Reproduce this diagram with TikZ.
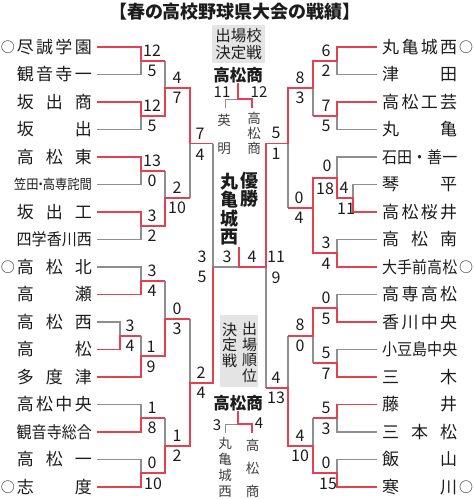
\documentclass[tikz,border=0pt]{standalone}
\usepackage{fontspec}
\setmainfont{Noto Sans CJK JP}
\definecolor{wr}{HTML}{E5404F}
\definecolor{gl}{HTML}{8E8E8E}
\definecolor{ink}{HTML}{1C1C1C}
\definecolor{boxbg}{HTML}{E4E4E4}
\newcommand\tname[1]{\makebox[75pt][s]{#1}}
\newcommand\fivename[1]{\scalebox{0.91}[1]{\fontsize{16.5}{16.5}\selectfont #1}}
\tikzset{
  rl/.style={draw=wr,line width=1.9pt},
  gr/.style={draw=gl,line width=1.1pt},
  rls/.style={draw=wr,line width=1.6pt},
  grs/.style={draw=gl,line width=0.9pt},
  ln/.style={anchor=east,inner sep=0pt,text=ink,font=\fontsize{17}{17}\selectfont},
  rn/.style={anchor=west,inner sep=0pt,text=ink,font=\fontsize{17}{17}\selectfont},
  sc/.style={inner sep=0pt,text=ink,font=\fontsize{16}{16}\selectfont},
  seed/.style={inner sep=0pt,text=ink,font=\fontsize{14}{14}\selectfont},
  vt/.style={inner sep=0pt,align=center,text=ink},
}
\begin{document}
\begin{tikzpicture}[x=1pt,y=-1pt,line join=miter]
\useasboundingbox (0,0) rectangle (474,499);
% title
\node[inner sep=0pt,text=ink,font=\fontsize{18}{18}\selectfont\bfseries] (T) at (235,12) {【春の高校野球県大会の戦績】};
% left names
\node[ln] (L0) at (92,47) {\tname{尽\hfill 誠\hfill 学\hfill 園}};
\node[ln] (L1) at (92,74.5) {\tname{観\hfill 音\hfill 寺\hfill 一}};
\node[ln] (L2) at (92,102) {\tname{坂\hfill 出\hfill 商}};
\node[ln] (L3) at (92,129.5) {\tname{坂\hfill 出}};
\node[ln] (L4) at (92,157) {\tname{高\hfill 松\hfill 東}};
\node[ln] (L5) at (92,184.5) {\scalebox{0.9}[1]{\fontsize{13.6}{13.6}\selectfont 笠田\kern-4.5pt・\kern-4.5pt高専詫間}};
\node[ln] (L6) at (92,212) {\tname{坂\hfill 出\hfill 工}};
\node[ln] (L7) at (92,239.5) {\fivename{四学香川西}};
\node[ln] (L8) at (92,267) {\tname{高\hfill 松\hfill 北}};
\node[ln] (L9) at (92,294.5) {\tname{高\hfill 瀬}};
\node[ln] (L10) at (92,322) {\tname{高\hfill 松\hfill 西}};
\node[ln] (L11) at (92,349.5) {\tname{高\hfill 松}};
\node[ln] (L12) at (92,377) {\tname{多\hfill 度\hfill 津}};
\node[ln] (L13) at (92,404.5) {\tname{高\hfill 松\hfill 中\hfill 央}};
\node[ln] (L14) at (92,432) {\fivename{観音寺総合}};
\node[ln] (L15) at (92,459.5) {\tname{高\hfill 松\hfill 一}};
\node[ln] (L16) at (92,487) {\tname{志\hfill 度}};
\node[seed] (CL0) at (8,47) {○};
\node[seed] (CL8) at (8,267) {○};
\node[seed] (CL16) at (8,487) {○};
% right names
\node[rn] (R0) at (382,47) {\tname{丸\hfill 亀\hfill 城\hfill 西}};
\node[rn] (R1) at (382,74.5) {\tname{津\hfill 田}};
\node[rn] (R2) at (382,102) {\tname{高\hfill 松\hfill 工\hfill 芸}};
\node[rn] (R3) at (382,129.5) {\tname{丸\hfill 亀}};
\node[rn] (R4) at (382,157) {\fivename{石田・善一}};
\node[rn] (R5) at (382,184.5) {\tname{琴\hfill 平}};
\node[rn] (R6) at (382,212) {\tname{高\hfill 松\hfill 桜\hfill 井}};
\node[rn] (R7) at (382,239.5) {\tname{高\hfill 松\hfill 南}};
\node[rn] (R8) at (382,267) {\fivename{大手前高松}};
\node[rn] (R9) at (382,294.5) {\tname{高\hfill 専\hfill 高\hfill 松}};
\node[rn] (R10) at (382,322) {\tname{香\hfill 川\hfill 中\hfill 央}};
\node[rn] (R11) at (382,349.5) {\fivename{小豆島中央}};
\node[rn] (R12) at (382,377) {\tname{三\hfill 木}};
\node[rn] (R13) at (382,404.5) {\tname{藤\hfill 井}};
\node[rn] (R14) at (382,432) {\tname{三\hfill 本\hfill 松}};
\node[rn] (R15) at (382,459.5) {\tname{飯\hfill 山}};
\node[rn] (R16) at (382,487) {\tname{寒\hfill 川}};
\node[seed] (CR0) at (466,47) {○};
\node[seed] (CR8) at (466,267) {○};
\node[seed] (CR16) at (466,487) {○};
% centre boxes and labels
\node[fill=boxbg,inner sep=1pt,minimum width=53pt,minimum height=38pt,align=center,text=ink,font=\fontsize{15.5}{17}\selectfont] (B1) at (238.5,44) {出場校\\決定戦};
\node[fill=boxbg,minimum width=38pt,minimum height=72pt,inner sep=0pt] (B2) at (239,351) {};
\node[vt,font=\fontsize{15}{15.5}\selectfont] (B2r) at (249.5,352.5) {出\\場\\順\\位};
\node[vt,font=\fontsize{15}{15.5}\selectfont] (B2l) at (229.5,345) {決\\定\\戦};
\node[inner sep=0pt,text=ink,font=\fontsize{16.5}{16.5}\selectfont\bfseries] (K1) at (238,75) {高松商};
\node[inner sep=0pt,text=ink,font=\fontsize{16.5}{16.5}\selectfont\bfseries] (K2) at (238,403) {高松商};
\node[vt,font=\fontsize{18}{18.5}\selectfont\bfseries] (V1) at (229,209) {丸\\亀\\城\\西};
\node[vt,font=\fontsize{18}{18}\selectfont\bfseries] (V2) at (249,190) {優\\勝};
\node[vt,text=ink!85,font=\fontsize{13.5}{28}\selectfont] (E1) at (224,134) {英\\明};
\node[vt,text=ink!85,font=\fontsize{13.5}{15}\selectfont] (E2) at (254,133.5) {高\\松\\商};
\node[vt,text=ink!85,font=\fontsize{13.5}{16}\selectfont] (E3) at (225,467) {丸\\亀\\城\\西};
\node[vt,text=ink!85,font=\fontsize{13.5}{23}\selectfont] (E4) at (252.5,468.5) {高\\松\\商};
\node[sc,font=\fontsize{15}{15}\selectfont] (k1a) at (222,92) {11};
\node[sc,font=\fontsize{15}{15}\selectfont] (k1b) at (259,92) {12};
\node[sc,font=\fontsize{15}{15}\selectfont] (k2a) at (217,425) {3};
\node[sc,font=\fontsize{15}{15}\selectfont] (k2b) at (259,423) {4};
% gray lines left
\draw[gr] ([xshift=5pt]L1.east) -| (141,60.75);
\draw[gr] ([xshift=5pt]L3.east) -| (141,115.75);
\draw[gr] ([xshift=5pt]L5.east) -| (141,170.75);
\draw[gr] ([xshift=5pt]L7.east) -| (141,225.75);
\draw[gr] ([xshift=5pt]L8.east) -| (141,281);
\draw[gr] ([xshift=5pt]L10.east) -| (120,335.75);
\draw[gr] (141,335.75) -- (141,356.4);
\draw[gr] ([xshift=5pt]L13.east) -| (141,418.25);
\draw[gr] ([xshift=5pt]L15.east) -| (141,473.25);
\draw[gr] (165,60.75) -- (165,88.25);
\draw[gr] (165,170.75) -- (165,198.25);
\draw[gr] (165,281) -- (165,319);
\draw[gr] (165,418.25) -- (165,445.75);
\draw[gr] (190,143.5) -- (190,198.25);
\draw[gr] (190,319) -- (190,383);
\draw[gr] (213,143.5) -- (213,267);
\draw[gr] (213,267) -- (239,267);
% gray lines right
\draw[gr] ([xshift=-5pt]R1.west) -| (337,60.75);
\draw[gr] ([xshift=-5pt]R3.west) -| (337,115.75);
\draw[gr] (313,88.25) -- (313,115.75);
\draw[gr] ([xshift=-5pt]R4.west) -| (337,177.6);
\draw[gr] ([xshift=-5pt]R5.west) -| (353,198.25);
\draw[gr] ([xshift=-5pt]R7.west) -| (337,253.25);
\draw[gr] (288,143.5) -- (288,208);
\draw[gr] ([xshift=-5pt]R9.west) -| (337,308.25);
\draw[gr] ([xshift=-5pt]R11.west) -| (337,363.25);
\draw[gr] (313,335.75) -- (313,363.25);
\draw[gr] ([xshift=-5pt]R14.west) -| (337,418.25);
\draw[gr] ([xshift=-5pt]R15.west) -| (337,473.25);
\draw[gr] (313,418.25) -- (313,445.75);
\draw[gr] (288,335.75) -- (288,388);
\draw[gr] (266,267) -- (266,388);
% small brackets
\draw[grs] (238,99) -| (225,108);
\draw[rls] (K1.south) -- (238,99) -| (252,108);
\draw[grs] (238,424) -| (225,433);
\draw[rls] (K2.south) -- (238,424) -| (252,433);
% red lines left
\draw[rl] ([xshift=5pt]L0.east) -| (141,60.75) -- (165,60.75);
\draw[rl] ([xshift=5pt]L2.east) -| (141,115.75) -| (165,88.25) -| (190,143.5) -- (213,143.5);
\draw[rl] ([xshift=5pt]L4.east) -| (141,170.75) -- (165,170.75);
\draw[rl] ([xshift=5pt]L6.east) -| (141,225.75) -| (165,198.25) -- (190,198.25);
\draw[rl] ([xshift=5pt]L9.east) -| (141,281) -- (165,281);
\draw[rl] ([xshift=5pt]L11.east) -| (120,335.75) -- (141,335.75);
\draw[rl] ([xshift=5pt]L12.east) -| (141,356.4) -| (165,319) -- (190,319);
\draw[rl] ([xshift=5pt]L14.east) -| (141,418.25) -- (165,418.25);
\draw[rl] ([xshift=5pt]L16.east) -| (141,473.25) -| (165,445.75) -| (190,383) -| (213,267);
% red lines right
\draw[rl] ([xshift=-5pt]R0.west) -| (337,60.75) -| (313,88.25) -| (288,143.5) -| (266,267) -- (239,267) -- (239,247);
\draw[rl] ([xshift=-5pt]R2.west) -| (337,115.75) -- (313,115.75);
\draw[rl] ([xshift=-5pt]R6.west) -| (353,198.25) -| (337,177.6) -- (313,177.6) -- (313,208);
\draw[rl] ([xshift=-5pt]R8.west) -| (337,253.25) -| (313,208) -- (288,208);
\draw[rl] ([xshift=-5pt]R10.west) -| (337,308.25) -| (313,335.75) -- (288,335.75);
\draw[rl] ([xshift=-5pt]R12.west) -| (337,363.25) -- (313,363.25);
\draw[rl] ([xshift=-5pt]R13.west) -| (337,418.25) -- (313,418.25);
\draw[rl] ([xshift=-5pt]R16.west) -| (337,473.25) -| (313,445.75) -| (288,388) -- (266,388);
% scores left
\node[sc] (a1) at (152,51) {12}; \node[sc] (a2) at (152,71) {5};
\node[sc] (a3) at (152,106) {12}; \node[sc] (a4) at (152,126) {5};
\node[sc] (a5) at (152,161) {13}; \node[sc] (a6) at (152,181) {0};
\node[sc] (a7) at (152,216) {3}; \node[sc] (a8) at (152,236) {2};
\node[sc] (a9) at (152,271) {3}; \node[sc] (a10) at (152,291) {4};
\node[sc] (a11) at (130,326) {3}; \node[sc] (a12) at (130,346) {4};
\node[sc] (a13) at (151,347) {1}; \node[sc] (a14) at (151,367) {9};
\node[sc] (a15) at (152,408) {1}; \node[sc] (a16) at (152,428) {8};
\node[sc] (a17) at (152,463) {0}; \node[sc] (a18) at (153,484) {10};
\node[sc] (b1) at (177,78) {4}; \node[sc] (b2) at (177,98) {7};
\node[sc] (b3) at (177,188) {2}; \node[sc] (b4) at (177,208) {10};
\node[sc] (b5) at (177,309) {0}; \node[sc] (b6) at (177,329) {3};
\node[sc] (b7) at (177,436) {1}; \node[sc] (b8) at (177,456) {2};
\node[sc] (c1) at (200,134) {7}; \node[sc] (c2) at (200,155) {4};
\node[sc] (c3) at (201,373) {2}; \node[sc] (c4) at (201,393) {4};
\node[sc] (d1) at (202,257) {3}; \node[sc] (d2) at (202,277) {5};
\node[sc] (f1) at (227,257) {3}; \node[sc] (f2) at (252,257) {4};
% scores right
\node[sc] (p1) at (326,51) {6}; \node[sc] (p2) at (326,71) {2};
\node[sc] (p3) at (326,106) {7}; \node[sc] (p4) at (326,126) {5};
\node[sc] (p5) at (327,166) {0}; \node[sc] (p6) at (325,189) {18};
\node[sc] (p7) at (344,188) {4}; \node[sc] (p8) at (346,209) {11};
\node[sc] (p9) at (326,243) {3}; \node[sc] (p10) at (326,264) {4};
\node[sc] (p11) at (326,298) {0}; \node[sc] (p12) at (326,319) {5};
\node[sc] (p13) at (326,353) {5}; \node[sc] (p14) at (326,374) {7};
\node[sc] (p15) at (326,408) {5}; \node[sc] (p16) at (326,429) {3};
\node[sc] (p17) at (326,463) {0}; \node[sc] (p18) at (328,484) {15};
\node[sc] (q1) at (300,78) {8}; \node[sc] (q2) at (300,98) {3};
\node[sc] (q3) at (299,198) {0}; \node[sc] (q4) at (299,218) {4};
\node[sc] (q5) at (300,325) {8}; \node[sc] (q6) at (300,346) {0};
\node[sc] (q7) at (300,436) {4}; \node[sc] (q8) at (300,456) {10};
\node[sc] (r1) at (276,133) {5}; \node[sc] (r2) at (276,154) {1};
\node[sc] (r3) at (276,378) {4}; \node[sc] (r4) at (276,398) {13};
\node[sc] (s1) at (276,257) {11}; \node[sc] (s2) at (276,278) {9};
\end{tikzpicture}
\end{document}
